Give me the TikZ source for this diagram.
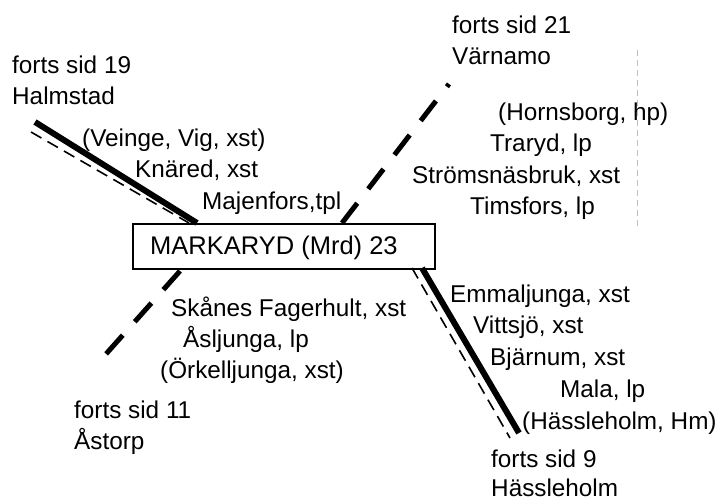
\documentclass[tikz,border=0pt]{standalone}
\usepackage{fontspec}
\setmainfont{Liberation Sans}
\begin{document}
\begin{tikzpicture}[x=1pt,y=-1pt,
  lbl/.style={anchor=base west,inner sep=0pt,font=\fontsize{24.3}{29}\selectfont},
  stationbox/.style={draw,line width=1.6pt,minimum width=302pt,minimum height=45pt,inner sep=0pt,anchor=north west},
  track/.style={line width=6pt},
  oldtrack/.style={line width=1.6pt,dash pattern=on 12pt off 7pt},
  planned/.style={line width=5pt,dash pattern=on 25pt off 18pt}]
\useasboundingbox (0,0) rectangle (717,501);
% box
\node[stationbox] (box) at (132,223) {};
\node[lbl,font=\fontsize{25.5}{29}\selectfont] (mrd) at (150,254) {MARKARYD (Mrd) 23};
% NW
\node[lbl] (f19) at (12,73) {forts sid 19};
\node[lbl] (halm) at (12,104) {Halmstad};
\node[lbl] (vei) at (82,146) {(Veinge, Vig, xst)};
\node[lbl] (kna) at (135,177) {Knäred, xst};
\node[lbl] (maj) at (202,209) {Majenfors,tpl};
% NE
\node[lbl] (f21) at (452,33) {forts sid 21};
\node[lbl] (varn) at (452,64) {Värnamo};
\node[lbl] (horn) at (498,120) {(Hornsborg, hp)};
\node[lbl] (trar) at (490,151) {Traryd, lp};
\node[lbl] (strom) at (412,183) {Strömsnäsbruk, xst};
\node[lbl] (tims) at (470,214) {Timsfors, lp};
% SW
\node[lbl] (skan) at (171,316) {Skånes Fagerhult, xst};
\node[lbl] (asl) at (183,347) {Åsljunga, lp};
\node[lbl] (ork) at (160,378) {(Örkelljunga, xst)};
\node[lbl] (f11) at (74,418) {forts sid 11};
\node[lbl] (ast) at (74,449) {Åstorp};
% SE
\node[lbl] (emm) at (450,302) {Emmaljunga, xst};
\node[lbl] (vit) at (473,333) {Vittsjö, xst};
\node[lbl] (bja) at (490,365) {Bjärnum, xst};
\node[lbl] (mala) at (560,397) {Mala, lp};
\node[lbl] (hass) at (522,429) {(Hässleholm, Hm)};
\node[lbl] (f9) at (491,467) {forts sid 9};
\node[lbl] (hlm) at (491,496) {Hässleholm};
% line ends
\coordinate (nwT) at (35,122);
\coordinate (nwTb) at (197,223);
\coordinate (nwD) at (31,132);
\coordinate (nwDb) at (189,223);
\coordinate (neE) at (449,84);
\coordinate (neB) at (342,223);
\coordinate (swB) at (180,271);
\coordinate (swE) at (106,354);
\coordinate (seTb) at (422,268);
\coordinate (seT) at (519,433);
\coordinate (seDb) at (412,268);
\coordinate (seD) at (510,438);
\coordinate (artA) at (637,50);
\coordinate (artB) at (637,228);
\draw[track] (nwT) -- (nwTb);
\draw[oldtrack] (nwD) -- (nwDb);
\draw[planned] (neB) -- (neE);
\draw[planned] (swB) -- (swE);
\draw[track] (seTb) -- (seT);
\draw[oldtrack] (seDb) -- (seD);
\draw[black!25,line width=0.5pt,dash pattern=on 6pt off 4pt] (artA) -- (artB);
\end{tikzpicture}
\end{document}
